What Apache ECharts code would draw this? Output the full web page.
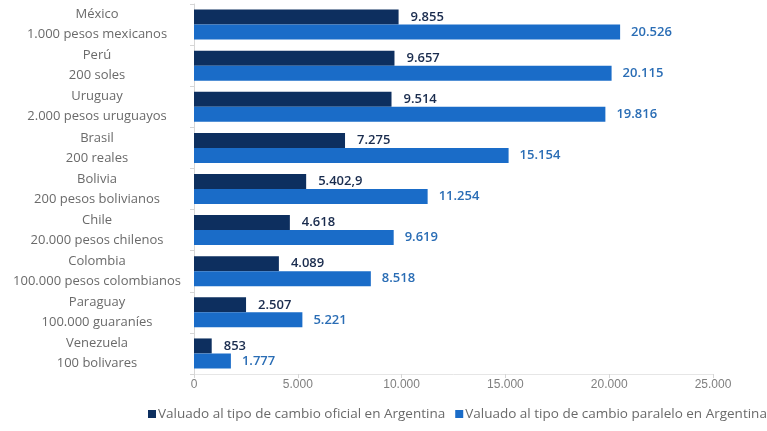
<!DOCTYPE html>
<html><head><meta charset="utf-8">
<script src="https://cdn.jsdelivr.net/npm/echarts@6/dist/echarts.min.js"></script>
<style>html,body{margin:0;padding:0;background:#fff}#c{width:767px;height:431px}</style>
</head><body><div id="c"></div>
<script>
const categories = [
  "México\n1.000 pesos mexicanos",
  "Perú\n200 soles",
  "Uruguay\n2.000 pesos uruguayos",
  "Brasil\n200 reales",
  "Bolivia\n200 pesos bolivianos",
  "Chile\n20.000 pesos chilenos",
  "Colombia\n100.000 pesos colombianos",
  "Paraguay\n100.000 guaraníes",
  "Venezuela\n100 bolivares"
];
const seriesNames = [
  "Valuado al tipo de cambio oficial en Argentina",
  "Valuado al tipo de cambio paralelo en Argentina"
];
const oficial = [9855, 9657, 9514, 7275, 5402.9, 4618, 4089, 2507, 853];
const paralelo = [20526, 20115, 19816, 15154, 11254, 9619, 8518, 5221, 1777];
const xTicks = { min: 0, max: 25000, interval: 5000 };

function fmt(v) {
  const parts = String(v).split('.');
  const intPart = parts[0].replace(/\B(?=(\d{3})+(?!\d))/g, '.');
  return parts.length > 1 ? intPart + ',' + parts[1] : intPart;
}

const FONT = '"Open Sans", "Liberation Sans", sans-serif';
const chart = echarts.init(document.getElementById('c'), null, {renderer: 'canvas'});
chart.setOption({
  animation: false,
  textStyle: {fontFamily: FONT},
  grid: {left: 194, right: 54, top: 4, bottom: 57, containLabel: false},
  xAxis: {
    type: 'value', min: xTicks.min, max: xTicks.max, interval: xTicks.interval,
    axisLine: {show: true, lineStyle: {color: '#e6e6e6'}},
    axisTick: {show: true, length: 4, lineStyle: {color: '#d6d6d6'}},
    splitLine: {show: false},
    axisLabel: {color: '#7f7f7f', fontSize: 12, margin: 5, formatter: fmt, fontFamily: '"Liberation Sans Narrow", "Liberation Sans", sans-serif'}
  },
  yAxis: {
    type: 'category', data: categories, inverse: true,
    axisLine: {show: true, lineStyle: {color: '#d6d6d6'}},
    axisTick: {show: true, length: 4, lineStyle: {color: '#d6d6d6'}},
    axisLabel: {color: '#6a6a6a', fontSize: 13, align: 'center', margin: 97, lineHeight: 20, fontFamily: FONT}
  },
  legend: {
    left: 148, top: 407, padding: 0, width: 619, itemWidth: 8, itemHeight: 8, itemGap: 10, icon: 'rect',
    textStyle: {color: '#6a6a6a', fontSize: 13.5, fontFamily: FONT, padding: [0,0,0,-3]},
    data: seriesNames
  },
  series: [
    {
      name: seriesNames[0], type: 'bar', data: oficial, barWidth: 15, barGap: '0%',
      itemStyle: {color: '#0d2f5f'},
      label: {show: true, position: 'right', distance: 12, color: '#1a2c4e', fontSize: 13, fontWeight: 600,
        fontFamily: FONT, formatter: p => fmt(p.value), offset: [0, 0]}
    },
    {
      name: seriesNames[1], type: 'bar', data: paralelo, barWidth: 15, barGap: '0%',
      itemStyle: {color: '#1a6cc8'},
      label: {show: true, position: 'right', distance: 11, color: '#2a6db5', fontSize: 13, fontWeight: 600,
        fontFamily: FONT, formatter: p => fmt(p.value)}
    }
  ]
});
</script></body></html>
